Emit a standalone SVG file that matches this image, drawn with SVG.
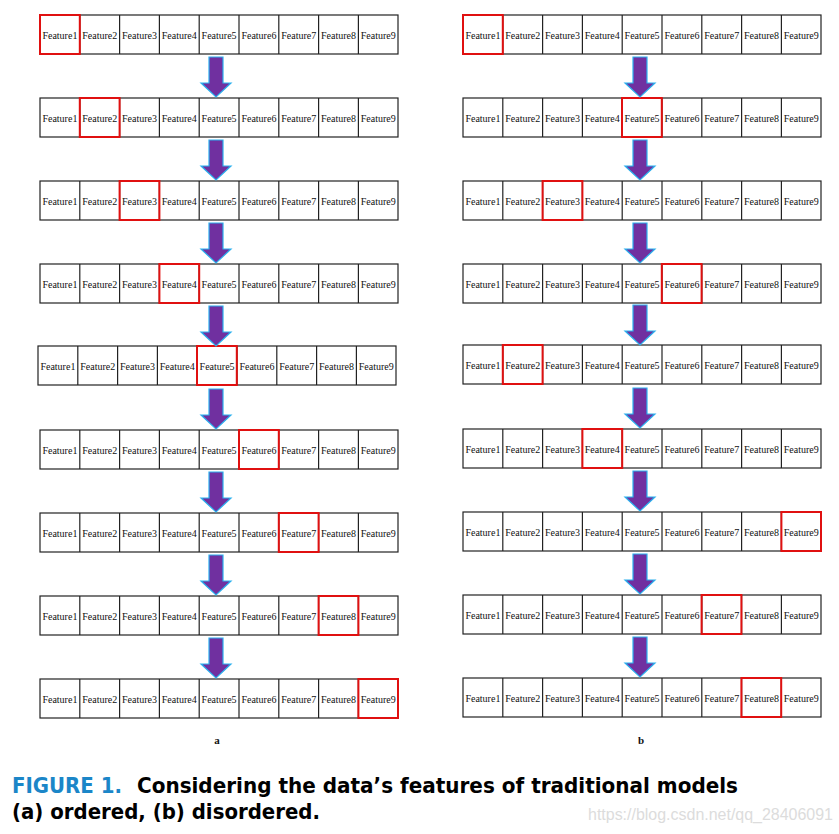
<svg xmlns="http://www.w3.org/2000/svg" xmlns:xlink="http://www.w3.org/1999/xlink" width="839" height="834" viewBox="0 0 839 834">
<style>
.c{fill:#fff;stroke:#222;stroke-width:1.2}
.h{fill:none;stroke:#e01010;stroke-width:2}
.t{font-family:"Liberation Serif","Times New Roman",serif;font-size:10px;fill:#111;text-anchor:middle}
.ar{fill:#7030a0;stroke:#2ab0ee;stroke-width:1.2}
.lab{font-family:"Liberation Serif",serif;font-size:11px;font-weight:bold;text-anchor:middle;fill:#111}
.cap{font-family:"DejaVu Sans Condensed","DejaVu Sans","Liberation Sans",sans-serif;font-weight:bold;font-size:21px;fill:#000}
.wm{font-family:"Liberation Sans",Arial,sans-serif;font-size:16px;fill:#dcdcdc}
</style>
<defs>
<g id="row">
<rect class="c" x="0" y="0" width="358" height="39"/>
<line x1="39.8" y1="0" x2="39.8" y2="39" stroke="#222" stroke-width="1.2"/>
<line x1="79.6" y1="0" x2="79.6" y2="39" stroke="#222" stroke-width="1.2"/>
<line x1="119.4" y1="0" x2="119.4" y2="39" stroke="#222" stroke-width="1.2"/>
<line x1="159.2" y1="0" x2="159.2" y2="39" stroke="#222" stroke-width="1.2"/>
<line x1="199" y1="0" x2="199" y2="39" stroke="#222" stroke-width="1.2"/>
<line x1="238.8" y1="0" x2="238.8" y2="39" stroke="#222" stroke-width="1.2"/>
<line x1="278.6" y1="0" x2="278.6" y2="39" stroke="#222" stroke-width="1.2"/>
<line x1="318.4" y1="0" x2="318.4" y2="39" stroke="#222" stroke-width="1.2"/>
<text class="t" x="19.9" y="23.5">Feature1</text>
<text class="t" x="59.7" y="23.5">Feature2</text>
<text class="t" x="99.5" y="23.5">Feature3</text>
<text class="t" x="139.3" y="23.5">Feature4</text>
<text class="t" x="179.1" y="23.5">Feature5</text>
<text class="t" x="218.9" y="23.5">Feature6</text>
<text class="t" x="258.7" y="23.5">Feature7</text>
<text class="t" x="298.5" y="23.5">Feature8</text>
<text class="t" x="338.2" y="23.5">Feature9</text>
</g>
<path id="arrow" class="ar" d="M-7,0 H7 V26 H15 L0,40 L-15,26 H-7 Z"/>
</defs>

<g id="left-column">
<g id="a1"><use xlink:href="#row" x="40" y="15"/><rect class="h" x="40" y="15" width="39.8" height="39"/></g>
<g id="a2"><use xlink:href="#row" x="40" y="98"/><rect class="h" x="79.8" y="98" width="39.8" height="39"/></g>
<g id="a3"><use xlink:href="#row" x="40" y="181"/><rect class="h" x="119.6" y="181" width="39.8" height="39"/></g>
<g id="a4"><use xlink:href="#row" x="40" y="264"/><rect class="h" x="159.4" y="264" width="39.8" height="39"/></g>
<g id="a5"><use xlink:href="#row" x="38" y="346"/><rect class="h" x="197" y="346" width="39.8" height="39"/></g>
<g id="a6"><use xlink:href="#row" x="40" y="430"/><rect class="h" x="239" y="430" width="39.8" height="39"/></g>
<g id="a7"><use xlink:href="#row" x="40" y="513"/><rect class="h" x="278.8" y="513" width="39.8" height="39"/></g>
<g id="a8"><use xlink:href="#row" x="40" y="596"/><rect class="h" x="318.6" y="596" width="39.8" height="39"/></g>
<g id="a9"><use xlink:href="#row" x="40" y="679"/><rect class="h" x="358.4" y="679" width="39.6" height="39"/></g>
</g>

<g id="right-column">
<g id="b1"><use xlink:href="#row" x="463" y="15"/><rect class="h" x="463" y="15" width="39.8" height="39"/></g>
<g id="b2"><use xlink:href="#row" x="463" y="98"/><rect class="h" x="622" y="98" width="39.8" height="39"/></g>
<g id="b3"><use xlink:href="#row" x="463" y="181"/><rect class="h" x="542.6" y="181" width="39.8" height="39"/></g>
<g id="b4"><use xlink:href="#row" x="463" y="264"/><rect class="h" x="661.8" y="264" width="39.8" height="39"/></g>
<g id="b5"><use xlink:href="#row" x="463" y="345"/><rect class="h" x="502.8" y="345" width="39.8" height="39"/></g>
<g id="b6"><use xlink:href="#row" x="463" y="429"/><rect class="h" x="582.4" y="429" width="39.8" height="39"/></g>
<g id="b7"><use xlink:href="#row" x="463" y="512"/><rect class="h" x="781.4" y="512" width="39.6" height="39"/></g>
<g id="b8"><use xlink:href="#row" x="463" y="595"/><rect class="h" x="701.6" y="595" width="39.8" height="39"/></g>
<g id="b9"><use xlink:href="#row" x="463" y="678"/><rect class="h" x="741.4" y="678" width="39.8" height="39"/></g>
</g>

<g id="connectors">
<use xlink:href="#arrow" x="216" y="57"/>
<use xlink:href="#arrow" x="216" y="140"/>
<use xlink:href="#arrow" x="216" y="223"/>
<use xlink:href="#arrow" x="216" y="306"/>
<use xlink:href="#arrow" x="216" y="389"/>
<use xlink:href="#arrow" x="216" y="472"/>
<use xlink:href="#arrow" x="216" y="555"/>
<use xlink:href="#arrow" x="216" y="638"/>
<use xlink:href="#arrow" x="640" y="57"/>
<use xlink:href="#arrow" x="640" y="140"/>
<use xlink:href="#arrow" x="640" y="223"/>
<use xlink:href="#arrow" x="640" y="305"/>
<use xlink:href="#arrow" x="640" y="388"/>
<use xlink:href="#arrow" x="640" y="471"/>
<use xlink:href="#arrow" x="640" y="554"/>
<use xlink:href="#arrow" x="640" y="637"/>
</g>

<text class="lab" x="217" y="744">a</text>
<text class="lab" x="641" y="744">b</text>

<text class="cap" x="12" y="793" textLength="110" lengthAdjust="spacingAndGlyphs" style="fill:#1b86c8">FIGURE 1.</text>
<text class="cap" x="137" y="793" textLength="601" lengthAdjust="spacingAndGlyphs">Considering the data’s features of traditional models</text>
<text class="cap" x="12" y="819" textLength="308" lengthAdjust="spacingAndGlyphs">(a) ordered, (b) disordered.</text>
<text class="wm" x="588" y="820" textLength="245" lengthAdjust="spacingAndGlyphs">https://blog.csdn.net/qq_28406091</text>
</svg>
